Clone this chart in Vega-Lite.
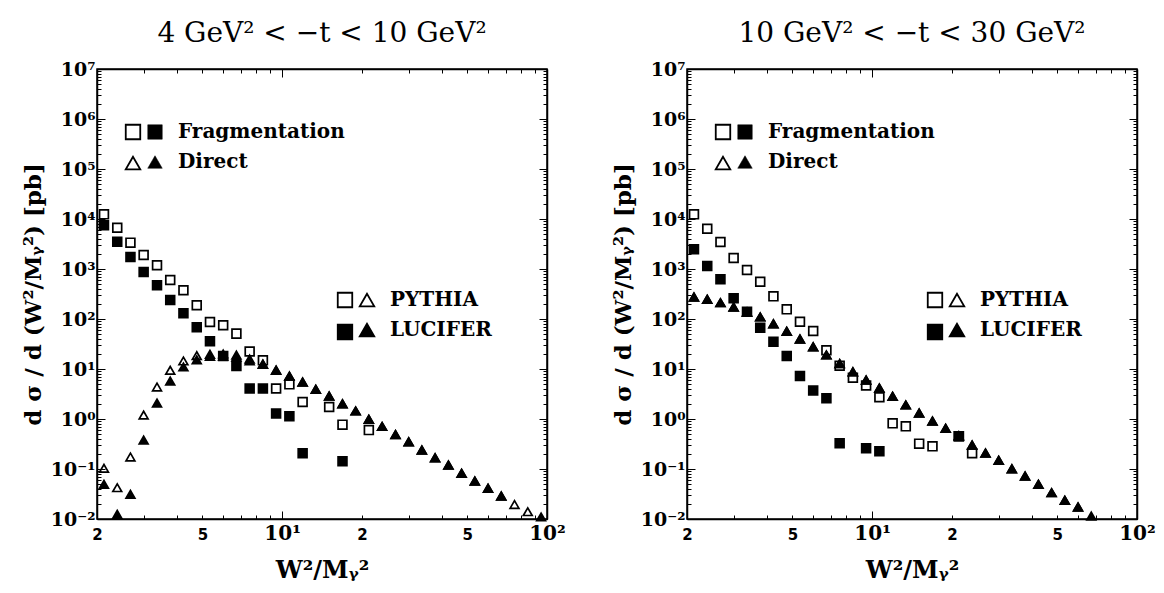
{
"$schema": "https://vega.github.io/schema/vega-lite/v6.json",
"background": "white",
"padding": {"left": 21, "top": 19, "right": 5, "bottom": 5},
"bounds": "flush",
"spacing": 140,
"datasets": {
"pts": [
{"p":"L","g":"PYTHIA","t":"Fragmentation","x":2.125,"y":12400},
{"p":"L","g":"PYTHIA","t":"Fragmentation","x":2.385,"y":6700},
{"p":"L","g":"PYTHIA","t":"Fragmentation","x":2.675,"y":3360},
{"p":"L","g":"PYTHIA","t":"Fragmentation","x":3.0,"y":1910},
{"p":"L","g":"PYTHIA","t":"Fragmentation","x":3.37,"y":1190},
{"p":"L","g":"PYTHIA","t":"Fragmentation","x":3.78,"y":603},
{"p":"L","g":"PYTHIA","t":"Fragmentation","x":4.24,"y":375},
{"p":"L","g":"PYTHIA","t":"Fragmentation","x":4.76,"y":188},
{"p":"L","g":"PYTHIA","t":"Fragmentation","x":5.34,"y":87},
{"p":"L","g":"PYTHIA","t":"Fragmentation","x":5.99,"y":75},
{"p":"L","g":"PYTHIA","t":"Fragmentation","x":6.72,"y":51},
{"p":"L","g":"PYTHIA","t":"Fragmentation","x":7.54,"y":22.4},
{"p":"L","g":"PYTHIA","t":"Fragmentation","x":8.46,"y":14.9},
{"p":"L","g":"PYTHIA","t":"Fragmentation","x":9.49,"y":4.07},
{"p":"L","g":"PYTHIA","t":"Fragmentation","x":10.65,"y":4.94},
{"p":"L","g":"PYTHIA","t":"Fragmentation","x":11.95,"y":2.19},
{"p":"L","g":"PYTHIA","t":"Fragmentation","x":15.05,"y":1.74},
{"p":"L","g":"PYTHIA","t":"Fragmentation","x":16.9,"y":0.77},
{"p":"L","g":"PYTHIA","t":"Fragmentation","x":21.25,"y":0.6},
{"p":"L","g":"LUCIFER","t":"Fragmentation","x":2.125,"y":7480},
{"p":"L","g":"LUCIFER","t":"Fragmentation","x":2.385,"y":3520},
{"p":"L","g":"LUCIFER","t":"Fragmentation","x":2.675,"y":1740},
{"p":"L","g":"LUCIFER","t":"Fragmentation","x":3.0,"y":871},
{"p":"L","g":"LUCIFER","t":"Fragmentation","x":3.37,"y":472},
{"p":"L","g":"LUCIFER","t":"Fragmentation","x":3.78,"y":240},
{"p":"L","g":"LUCIFER","t":"Fragmentation","x":4.24,"y":130},
{"p":"L","g":"LUCIFER","t":"Fragmentation","x":4.76,"y":68.2},
{"p":"L","g":"LUCIFER","t":"Fragmentation","x":5.34,"y":35.8},
{"p":"L","g":"LUCIFER","t":"Fragmentation","x":5.99,"y":18.2},
{"p":"L","g":"LUCIFER","t":"Fragmentation","x":6.72,"y":11.5},
{"p":"L","g":"LUCIFER","t":"Fragmentation","x":7.54,"y":4.07},
{"p":"L","g":"LUCIFER","t":"Fragmentation","x":8.46,"y":4.07},
{"p":"L","g":"LUCIFER","t":"Fragmentation","x":9.49,"y":1.29},
{"p":"L","g":"LUCIFER","t":"Fragmentation","x":10.65,"y":1.13},
{"p":"L","g":"LUCIFER","t":"Fragmentation","x":11.95,"y":0.206},
{"p":"L","g":"LUCIFER","t":"Fragmentation","x":16.9,"y":0.143},
{"p":"L","g":"PYTHIA","t":"Direct","x":2.125,"y":0.103},
{"p":"L","g":"PYTHIA","t":"Direct","x":2.385,"y":0.0423},
{"p":"L","g":"PYTHIA","t":"Direct","x":2.675,"y":0.174},
{"p":"L","g":"PYTHIA","t":"Direct","x":3.0,"y":1.2},
{"p":"L","g":"PYTHIA","t":"Direct","x":3.37,"y":4.37},
{"p":"L","g":"PYTHIA","t":"Direct","x":3.78,"y":9.42},
{"p":"L","g":"PYTHIA","t":"Direct","x":4.24,"y":14.5},
{"p":"L","g":"PYTHIA","t":"Direct","x":4.76,"y":18.5},
{"p":"L","g":"PYTHIA","t":"Direct","x":5.34,"y":19.7},
{"p":"L","g":"PYTHIA","t":"Direct","x":5.99,"y":20},
{"p":"L","g":"PYTHIA","t":"Direct","x":6.72,"y":19},
{"p":"L","g":"PYTHIA","t":"Direct","x":7.54,"y":15.8},
{"p":"L","g":"PYTHIA","t":"Direct","x":8.46,"y":12.6},
{"p":"L","g":"PYTHIA","t":"Direct","x":9.49,"y":9.5},
{"p":"L","g":"PYTHIA","t":"Direct","x":10.65,"y":7.2},
{"p":"L","g":"PYTHIA","t":"Direct","x":11.95,"y":5.5},
{"p":"L","g":"PYTHIA","t":"Direct","x":13.4,"y":3.93},
{"p":"L","g":"PYTHIA","t":"Direct","x":15.05,"y":2.88},
{"p":"L","g":"PYTHIA","t":"Direct","x":16.9,"y":2.02},
{"p":"L","g":"PYTHIA","t":"Direct","x":18.95,"y":1.45},
{"p":"L","g":"PYTHIA","t":"Direct","x":21.25,"y":0.99},
{"p":"L","g":"PYTHIA","t":"Direct","x":23.85,"y":0.71},
{"p":"L","g":"PYTHIA","t":"Direct","x":26.8,"y":0.49},
{"p":"L","g":"PYTHIA","t":"Direct","x":30.05,"y":0.35},
{"p":"L","g":"PYTHIA","t":"Direct","x":33.7,"y":0.24},
{"p":"L","g":"PYTHIA","t":"Direct","x":37.8,"y":0.168},
{"p":"L","g":"PYTHIA","t":"Direct","x":42.45,"y":0.12},
{"p":"L","g":"PYTHIA","t":"Direct","x":47.6,"y":0.082},
{"p":"L","g":"PYTHIA","t":"Direct","x":53.4,"y":0.0575},
{"p":"L","g":"PYTHIA","t":"Direct","x":59.9,"y":0.041},
{"p":"L","g":"PYTHIA","t":"Direct","x":67.2,"y":0.0288},
{"p":"L","g":"PYTHIA","t":"Direct","x":75.4,"y":0.0195},
{"p":"L","g":"PYTHIA","t":"Direct","x":84.6,"y":0.014},
{"p":"L","g":"LUCIFER","t":"Direct","x":2.125,"y":0.0494},
{"p":"L","g":"LUCIFER","t":"Direct","x":2.385,"y":0.0124},
{"p":"L","g":"LUCIFER","t":"Direct","x":2.675,"y":0.0312},
{"p":"L","g":"LUCIFER","t":"Direct","x":3.0,"y":0.38},
{"p":"L","g":"LUCIFER","t":"Direct","x":3.37,"y":2.09},
{"p":"L","g":"LUCIFER","t":"Direct","x":3.78,"y":5.75},
{"p":"L","g":"LUCIFER","t":"Direct","x":4.24,"y":11},
{"p":"L","g":"LUCIFER","t":"Direct","x":4.76,"y":15.3},
{"p":"L","g":"LUCIFER","t":"Direct","x":5.34,"y":17.9},
{"p":"L","g":"LUCIFER","t":"Direct","x":5.99,"y":18.2},
{"p":"L","g":"LUCIFER","t":"Direct","x":6.72,"y":17.4},
{"p":"L","g":"LUCIFER","t":"Direct","x":7.54,"y":14.5},
{"p":"L","g":"LUCIFER","t":"Direct","x":8.46,"y":12.4},
{"p":"L","g":"LUCIFER","t":"Direct","x":9.49,"y":9.4},
{"p":"L","g":"LUCIFER","t":"Direct","x":10.65,"y":7.2},
{"p":"L","g":"LUCIFER","t":"Direct","x":11.95,"y":5.5},
{"p":"L","g":"LUCIFER","t":"Direct","x":13.4,"y":3.93},
{"p":"L","g":"LUCIFER","t":"Direct","x":15.05,"y":2.88},
{"p":"L","g":"LUCIFER","t":"Direct","x":16.9,"y":2.02},
{"p":"L","g":"LUCIFER","t":"Direct","x":18.95,"y":1.45},
{"p":"L","g":"LUCIFER","t":"Direct","x":21.25,"y":0.99},
{"p":"L","g":"LUCIFER","t":"Direct","x":23.85,"y":0.71},
{"p":"L","g":"LUCIFER","t":"Direct","x":26.8,"y":0.49},
{"p":"L","g":"LUCIFER","t":"Direct","x":30.05,"y":0.35},
{"p":"L","g":"LUCIFER","t":"Direct","x":33.7,"y":0.24},
{"p":"L","g":"LUCIFER","t":"Direct","x":37.8,"y":0.168},
{"p":"L","g":"LUCIFER","t":"Direct","x":42.45,"y":0.12},
{"p":"L","g":"LUCIFER","t":"Direct","x":47.6,"y":0.082},
{"p":"L","g":"LUCIFER","t":"Direct","x":53.4,"y":0.0575},
{"p":"L","g":"LUCIFER","t":"Direct","x":59.9,"y":0.041},
{"p":"L","g":"LUCIFER","t":"Direct","x":67.2,"y":0.0288},
{"p":"L","g":"LUCIFER","t":"Direct","x":95.0,"y":0.011},
{"p":"R","g":"PYTHIA","t":"Fragmentation","x":2.125,"y":12400},
{"p":"R","g":"PYTHIA","t":"Fragmentation","x":2.385,"y":6400},
{"p":"R","g":"PYTHIA","t":"Fragmentation","x":2.675,"y":3470},
{"p":"R","g":"PYTHIA","t":"Fragmentation","x":3.0,"y":1660},
{"p":"R","g":"PYTHIA","t":"Fragmentation","x":3.37,"y":955},
{"p":"R","g":"PYTHIA","t":"Fragmentation","x":3.78,"y":557},
{"p":"R","g":"PYTHIA","t":"Fragmentation","x":4.24,"y":284},
{"p":"R","g":"PYTHIA","t":"Fragmentation","x":4.76,"y":156},
{"p":"R","g":"PYTHIA","t":"Fragmentation","x":5.34,"y":88.3},
{"p":"R","g":"PYTHIA","t":"Fragmentation","x":5.99,"y":57.5},
{"p":"R","g":"PYTHIA","t":"Fragmentation","x":6.72,"y":23.7},
{"p":"R","g":"PYTHIA","t":"Fragmentation","x":7.54,"y":11.6},
{"p":"R","g":"PYTHIA","t":"Fragmentation","x":8.46,"y":6.7},
{"p":"R","g":"PYTHIA","t":"Fragmentation","x":9.49,"y":4.68},
{"p":"R","g":"PYTHIA","t":"Fragmentation","x":10.65,"y":2.72},
{"p":"R","g":"PYTHIA","t":"Fragmentation","x":11.95,"y":0.82},
{"p":"R","g":"PYTHIA","t":"Fragmentation","x":13.4,"y":0.714},
{"p":"R","g":"PYTHIA","t":"Fragmentation","x":15.05,"y":0.321},
{"p":"R","g":"PYTHIA","t":"Fragmentation","x":16.9,"y":0.284},
{"p":"R","g":"PYTHIA","t":"Fragmentation","x":21.25,"y":0.451},
{"p":"R","g":"PYTHIA","t":"Fragmentation","x":23.85,"y":0.206},
{"p":"R","g":"LUCIFER","t":"Fragmentation","x":2.125,"y":2480},
{"p":"R","g":"LUCIFER","t":"Fragmentation","x":2.385,"y":1150},
{"p":"R","g":"LUCIFER","t":"Fragmentation","x":2.675,"y":622},
{"p":"R","g":"LUCIFER","t":"Fragmentation","x":3.0,"y":259},
{"p":"R","g":"LUCIFER","t":"Fragmentation","x":3.37,"y":140},
{"p":"R","g":"LUCIFER","t":"Fragmentation","x":3.78,"y":67},
{"p":"R","g":"LUCIFER","t":"Fragmentation","x":4.24,"y":35.2},
{"p":"R","g":"LUCIFER","t":"Fragmentation","x":4.76,"y":18.2},
{"p":"R","g":"LUCIFER","t":"Fragmentation","x":5.34,"y":7.24},
{"p":"R","g":"LUCIFER","t":"Fragmentation","x":5.99,"y":3.72},
{"p":"R","g":"LUCIFER","t":"Fragmentation","x":6.72,"y":2.59},
{"p":"R","g":"LUCIFER","t":"Fragmentation","x":7.54,"y":0.327},
{"p":"R","g":"LUCIFER","t":"Fragmentation","x":9.49,"y":0.259},
{"p":"R","g":"LUCIFER","t":"Fragmentation","x":10.65,"y":0.227},
{"p":"R","g":"LUCIFER","t":"Fragmentation","x":21.25,"y":0.451},
{"p":"R","g":"PYTHIA","t":"Direct","x":2.125,"y":275},
{"p":"R","g":"PYTHIA","t":"Direct","x":2.385,"y":248},
{"p":"R","g":"PYTHIA","t":"Direct","x":2.675,"y":212},
{"p":"R","g":"PYTHIA","t":"Direct","x":3.0,"y":174},
{"p":"R","g":"PYTHIA","t":"Direct","x":3.37,"y":138},
{"p":"R","g":"PYTHIA","t":"Direct","x":3.78,"y":110},
{"p":"R","g":"PYTHIA","t":"Direct","x":4.24,"y":80.5},
{"p":"R","g":"PYTHIA","t":"Direct","x":4.76,"y":56.8},
{"p":"R","g":"PYTHIA","t":"Direct","x":5.34,"y":39.8},
{"p":"R","g":"PYTHIA","t":"Direct","x":5.99,"y":27.9},
{"p":"R","g":"PYTHIA","t":"Direct","x":6.72,"y":19.1},
{"p":"R","g":"PYTHIA","t":"Direct","x":7.54,"y":12.8},
{"p":"R","g":"PYTHIA","t":"Direct","x":8.46,"y":8.83},
{"p":"R","g":"PYTHIA","t":"Direct","x":9.49,"y":6.03},
{"p":"R","g":"PYTHIA","t":"Direct","x":10.65,"y":4.17},
{"p":"R","g":"PYTHIA","t":"Direct","x":11.95,"y":2.84},
{"p":"R","g":"PYTHIA","t":"Direct","x":13.4,"y":1.91},
{"p":"R","g":"PYTHIA","t":"Direct","x":15.05,"y":1.32},
{"p":"R","g":"PYTHIA","t":"Direct","x":16.9,"y":0.912},
{"p":"R","g":"PYTHIA","t":"Direct","x":18.95,"y":0.652},
{"p":"R","g":"PYTHIA","t":"Direct","x":21.25,"y":0.463},
{"p":"R","g":"PYTHIA","t":"Direct","x":23.85,"y":0.302},
{"p":"R","g":"PYTHIA","t":"Direct","x":26.8,"y":0.209},
{"p":"R","g":"PYTHIA","t":"Direct","x":30.05,"y":0.149},
{"p":"R","g":"PYTHIA","t":"Direct","x":33.7,"y":0.101},
{"p":"R","g":"PYTHIA","t":"Direct","x":37.8,"y":0.0724},
{"p":"R","g":"PYTHIA","t":"Direct","x":42.45,"y":0.0494},
{"p":"R","g":"PYTHIA","t":"Direct","x":47.6,"y":0.0336},
{"p":"R","g":"PYTHIA","t":"Direct","x":53.4,"y":0.0237},
{"p":"R","g":"PYTHIA","t":"Direct","x":59.9,"y":0.0174},
{"p":"R","g":"LUCIFER","t":"Direct","x":2.125,"y":275},
{"p":"R","g":"LUCIFER","t":"Direct","x":2.385,"y":248},
{"p":"R","g":"LUCIFER","t":"Direct","x":2.675,"y":212},
{"p":"R","g":"LUCIFER","t":"Direct","x":3.0,"y":174},
{"p":"R","g":"LUCIFER","t":"Direct","x":3.37,"y":138},
{"p":"R","g":"LUCIFER","t":"Direct","x":3.78,"y":110},
{"p":"R","g":"LUCIFER","t":"Direct","x":4.24,"y":80.5},
{"p":"R","g":"LUCIFER","t":"Direct","x":4.76,"y":56.8},
{"p":"R","g":"LUCIFER","t":"Direct","x":5.34,"y":39.8},
{"p":"R","g":"LUCIFER","t":"Direct","x":5.99,"y":27.9},
{"p":"R","g":"LUCIFER","t":"Direct","x":6.72,"y":19.1},
{"p":"R","g":"LUCIFER","t":"Direct","x":7.54,"y":12.8},
{"p":"R","g":"LUCIFER","t":"Direct","x":8.46,"y":8.83},
{"p":"R","g":"LUCIFER","t":"Direct","x":9.49,"y":6.03},
{"p":"R","g":"LUCIFER","t":"Direct","x":10.65,"y":4.17},
{"p":"R","g":"LUCIFER","t":"Direct","x":11.95,"y":2.84},
{"p":"R","g":"LUCIFER","t":"Direct","x":13.4,"y":1.91},
{"p":"R","g":"LUCIFER","t":"Direct","x":15.05,"y":1.32},
{"p":"R","g":"LUCIFER","t":"Direct","x":16.9,"y":0.912},
{"p":"R","g":"LUCIFER","t":"Direct","x":18.95,"y":0.652},
{"p":"R","g":"LUCIFER","t":"Direct","x":21.25,"y":0.463},
{"p":"R","g":"LUCIFER","t":"Direct","x":23.85,"y":0.302},
{"p":"R","g":"LUCIFER","t":"Direct","x":26.8,"y":0.209},
{"p":"R","g":"LUCIFER","t":"Direct","x":30.05,"y":0.149},
{"p":"R","g":"LUCIFER","t":"Direct","x":33.7,"y":0.101},
{"p":"R","g":"LUCIFER","t":"Direct","x":37.8,"y":0.0724},
{"p":"R","g":"LUCIFER","t":"Direct","x":42.45,"y":0.0494},
{"p":"R","g":"LUCIFER","t":"Direct","x":47.6,"y":0.0336},
{"p":"R","g":"LUCIFER","t":"Direct","x":53.4,"y":0.0237},
{"p":"R","g":"LUCIFER","t":"Direct","x":59.9,"y":0.0174},
{"p":"R","g":"LUCIFER","t":"Direct","x":67.2,"y":0.0115}
]
},
"data": {"name": "pts"},
"hconcat": [
{
"title": {"text": "4 GeV² < −t < 10 GeV²"},
"width": 450, "height": 450,
"transform": [{"filter": "datum.p=='L'"}],
"layer": [
{
"mark": {"type": "point", "filled": true, "stroke": "black", "strokeWidth": 1.7, "size": 78, "opacity": 1},
"encoding": {
"x": {"field": "x", "type": "quantitative", "scale": {"type": "log", "domain": [2, 100], "nice": false},
 "axis": {"orient": "bottom", "values": [2,3,4,5,6,7,8,9,10,20,30,40,50,60,70,80,90,100],
  "labelExpr": "datum.value==2||datum.value==20?'2':datum.value==5||datum.value==50?'5':datum.value==10?'10¹':datum.value==100?'10²':''",
  "labelFont": {"condition": {"test": "datum.value==10||datum.value==100", "value": "DejaVu Serif"}, "value": "DejaVu Sans"},
  "labelFontSize": {"condition": {"test": "datum.value==10||datum.value==100", "value": 20}, "value": 15},
  "labelPadding": 12,
  "tickSize": {"condition": {"test": "datum.value==10||datum.value==100", "value": -8}, "value": -4},
  "title": "W²/Mᵧ²", "titleFontSize": 24, "titlePadding": 15}},
"y": {"field": "y", "type": "quantitative", "scale": {"type": "log", "domain": [0.01, 10000000], "nice": false},
 "axis": {"orient": "left", "values": [0.01,0.02,0.03,0.04,0.05,0.06,0.07,0.08,0.09,0.1,0.2,0.3,0.4,0.5,0.6,0.7,0.8,0.9,1,2,3,4,5,6,7,8,9,10,20,30,40,50,60,70,80,90,100,200,300,400,500,600,700,800,900,1000,2000,3000,4000,5000,6000,7000,8000,9000,10000,20000,30000,40000,50000,60000,70000,80000,90000,100000,200000,300000,400000,500000,600000,700000,800000,900000,1000000,2000000,3000000,4000000,5000000,6000000,7000000,8000000,9000000,10000000],
  "labelExpr": "abs(log(datum.value)/LN10-round(log(datum.value)/LN10))<1e-6 ? '10'+['⁻²','⁻¹','⁰','¹','²','³','⁴','⁵','⁶','⁷'][round(log(datum.value)/LN10)+2] : ''",
  "labelFontSize": 19,
  "tickSize": {"condition": {"test": "abs(log(datum.value)/LN10-round(log(datum.value)/LN10))<1e-6", "value": -8}, "value": -4},
  "title": "d σ / d (W²/Mᵧ²) [pb]", "titleFontSize": 23, "titlePadding": 5}},
"shape": {"field": "t", "type": "nominal", "scale": {"domain": ["Fragmentation", "Direct"], "range": ["square", "triangle-up"]},
 "legend": {"orient": "none", "legendX": 26, "legendY": 53, "title": null, "symbolSize": 210, "symbolFillColor": "transparent", "symbolStrokeColor": "black", "symbolStrokeWidth": 1.8, "labelExpr": "''", "rowPadding": 10, "padding": 0}},
"fill": {"field": "g", "type": "nominal", "scale": {"domain": ["PYTHIA", "LUCIFER"], "range": ["transparent", "black"]},
 "legend": {"orient": "none", "legendX": 238, "legendY": 221, "title": null, "symbolType": "square", "symbolSize": 210, "symbolStrokeColor": "black", "symbolStrokeWidth": 1.8, "labelExpr": "''", "rowPadding": 10, "padding": 0}}
}
},
{
"transform": [{"filter": "false"}],
"mark": {"type": "point", "filled": true, "stroke": "black", "strokeWidth": 1.7, "size": 78, "opacity": 1},
"encoding": {
"x": {"field": "x", "type": "quantitative", "axis": {"orient": "top", "values": [2,3,4,5,6,7,8,9,10,20,30,40,50,60,70,80,90,100], "labels": false, "title": null,
  "tickSize": {"condition": {"test": "datum.value==10||datum.value==100", "value": -8}, "value": -4}}},
"y": {"field": "y", "type": "quantitative", "axis": {"orient": "right", "values": [0.01,0.02,0.03,0.04,0.05,0.06,0.07,0.08,0.09,0.1,0.2,0.3,0.4,0.5,0.6,0.7,0.8,0.9,1,2,3,4,5,6,7,8,9,10,20,30,40,50,60,70,80,90,100,200,300,400,500,600,700,800,900,1000,2000,3000,4000,5000,6000,7000,8000,9000,10000,20000,30000,40000,50000,60000,70000,80000,90000,100000,200000,300000,400000,500000,600000,700000,800000,900000,1000000,2000000,3000000,4000000,5000000,6000000,7000000,8000000,9000000,10000000], "labels": false, "title": null,
  "tickSize": {"condition": {"test": "abs(log(datum.value)/LN10-round(log(datum.value)/LN10))<1e-6", "value": -8}, "value": -4}}},
"shape": {"field": "t", "type": "nominal", "scale": {"domain": ["Fragmentation", "Direct"], "range": ["square", "triangle-up"]},
 "legend": {"orient": "none", "legendX": 48, "legendY": 53, "title": null, "symbolSize": 210, "symbolFillColor": "black", "symbolStrokeColor": "black", "symbolStrokeWidth": 0.5, "labelOffset": 13, "rowPadding": 10, "padding": 0}},
"fill": {"field": "g", "type": "nominal", "scale": {"domain": ["PYTHIA", "LUCIFER"], "range": ["transparent", "black"]},
 "legend": {"orient": "none", "legendX": 260, "legendY": 221, "title": null, "symbolType": "triangle-up", "symbolSize": 210, "symbolStrokeColor": "black", "symbolStrokeWidth": 1.8, "labelOffset": 13, "rowPadding": 10, "padding": 0}}
}
}
],
"resolve": {"scale": {"shape": "independent", "fill": "independent"}, "axis": {"x": "independent", "y": "independent"}, "legend": {"shape": "independent", "fill": "independent"}}
},
{
"title": {"text": "10 GeV² < −t < 30 GeV²"},
"width": 450, "height": 450,
"transform": [{"filter": "datum.p=='R'"}],
"layer": [
{
"mark": {"type": "point", "filled": true, "stroke": "black", "strokeWidth": 1.7, "size": 78, "opacity": 1},
"encoding": {
"x": {"field": "x", "type": "quantitative", "scale": {"type": "log", "domain": [2, 100], "nice": false},
 "axis": {"orient": "bottom", "values": [2,3,4,5,6,7,8,9,10,20,30,40,50,60,70,80,90,100],
  "labelExpr": "datum.value==2||datum.value==20?'2':datum.value==5||datum.value==50?'5':datum.value==10?'10¹':datum.value==100?'10²':''",
  "labelFont": {"condition": {"test": "datum.value==10||datum.value==100", "value": "DejaVu Serif"}, "value": "DejaVu Sans"},
  "labelFontSize": {"condition": {"test": "datum.value==10||datum.value==100", "value": 20}, "value": 15},
  "labelPadding": 12,
  "tickSize": {"condition": {"test": "datum.value==10||datum.value==100", "value": -8}, "value": -4},
  "title": "W²/Mᵧ²", "titleFontSize": 24, "titlePadding": 15}},
"y": {"field": "y", "type": "quantitative", "scale": {"type": "log", "domain": [0.01, 10000000], "nice": false},
 "axis": {"orient": "left", "values": [0.01,0.02,0.03,0.04,0.05,0.06,0.07,0.08,0.09,0.1,0.2,0.3,0.4,0.5,0.6,0.7,0.8,0.9,1,2,3,4,5,6,7,8,9,10,20,30,40,50,60,70,80,90,100,200,300,400,500,600,700,800,900,1000,2000,3000,4000,5000,6000,7000,8000,9000,10000,20000,30000,40000,50000,60000,70000,80000,90000,100000,200000,300000,400000,500000,600000,700000,800000,900000,1000000,2000000,3000000,4000000,5000000,6000000,7000000,8000000,9000000,10000000],
  "labelExpr": "abs(log(datum.value)/LN10-round(log(datum.value)/LN10))<1e-6 ? '10'+['⁻²','⁻¹','⁰','¹','²','³','⁴','⁵','⁶','⁷'][round(log(datum.value)/LN10)+2] : ''",
  "labelFontSize": 19,
  "tickSize": {"condition": {"test": "abs(log(datum.value)/LN10-round(log(datum.value)/LN10))<1e-6", "value": -8}, "value": -4},
  "title": "d σ / d (W²/Mᵧ²) [pb]", "titleFontSize": 23, "titlePadding": 5}},
"shape": {"field": "t", "type": "nominal", "scale": {"domain": ["Fragmentation", "Direct"], "range": ["square", "triangle-up"]},
 "legend": {"orient": "none", "legendX": 26, "legendY": 53, "title": null, "symbolSize": 210, "symbolFillColor": "transparent", "symbolStrokeColor": "black", "symbolStrokeWidth": 1.8, "labelExpr": "''", "rowPadding": 10, "padding": 0}},
"fill": {"field": "g", "type": "nominal", "scale": {"domain": ["PYTHIA", "LUCIFER"], "range": ["transparent", "black"]},
 "legend": {"orient": "none", "legendX": 238, "legendY": 221, "title": null, "symbolType": "square", "symbolSize": 210, "symbolStrokeColor": "black", "symbolStrokeWidth": 1.8, "labelExpr": "''", "rowPadding": 10, "padding": 0}}
}
},
{
"transform": [{"filter": "false"}],
"mark": {"type": "point", "filled": true, "stroke": "black", "strokeWidth": 1.7, "size": 78, "opacity": 1},
"encoding": {
"x": {"field": "x", "type": "quantitative", "axis": {"orient": "top", "values": [2,3,4,5,6,7,8,9,10,20,30,40,50,60,70,80,90,100], "labels": false, "title": null,
  "tickSize": {"condition": {"test": "datum.value==10||datum.value==100", "value": -8}, "value": -4}}},
"y": {"field": "y", "type": "quantitative", "axis": {"orient": "right", "values": [0.01,0.02,0.03,0.04,0.05,0.06,0.07,0.08,0.09,0.1,0.2,0.3,0.4,0.5,0.6,0.7,0.8,0.9,1,2,3,4,5,6,7,8,9,10,20,30,40,50,60,70,80,90,100,200,300,400,500,600,700,800,900,1000,2000,3000,4000,5000,6000,7000,8000,9000,10000,20000,30000,40000,50000,60000,70000,80000,90000,100000,200000,300000,400000,500000,600000,700000,800000,900000,1000000,2000000,3000000,4000000,5000000,6000000,7000000,8000000,9000000,10000000], "labels": false, "title": null,
  "tickSize": {"condition": {"test": "abs(log(datum.value)/LN10-round(log(datum.value)/LN10))<1e-6", "value": -8}, "value": -4}}},
"shape": {"field": "t", "type": "nominal", "scale": {"domain": ["Fragmentation", "Direct"], "range": ["square", "triangle-up"]},
 "legend": {"orient": "none", "legendX": 48, "legendY": 53, "title": null, "symbolSize": 210, "symbolFillColor": "black", "symbolStrokeColor": "black", "symbolStrokeWidth": 0.5, "labelOffset": 13, "rowPadding": 10, "padding": 0}},
"fill": {"field": "g", "type": "nominal", "scale": {"domain": ["PYTHIA", "LUCIFER"], "range": ["transparent", "black"]},
 "legend": {"orient": "none", "legendX": 260, "legendY": 221, "title": null, "symbolType": "triangle-up", "symbolSize": 210, "symbolStrokeColor": "black", "symbolStrokeWidth": 1.8, "labelOffset": 13, "rowPadding": 10, "padding": 0}}
}
}
],
"resolve": {"scale": {"shape": "independent", "fill": "independent"}, "axis": {"x": "independent", "y": "independent"}, "legend": {"shape": "independent", "fill": "independent"}}
}
],
"resolve": {"scale": {"shape": "independent", "fill": "independent"}, "legend": {"shape": "independent", "fill": "independent"}},
"config": {
"font": "DejaVu Serif",
"view": {"stroke": "black", "strokeWidth": 1.5},
"title": {"font": "DejaVu Serif", "fontSize": 28, "fontWeight": "normal", "color": "black", "offset": 12, "anchor": "middle"},
"axis": {"grid": false, "domainColor": "black", "domainWidth": 1.5, "tickColor": "black", "tickWidth": 1, "labelColor": "black", "labelFont": "DejaVu Serif", "labelFontWeight": "bold", "labelFontSize": 20, "labelPadding": 10, "labelOverlap": false, "labelFlush": false, "labelBound": false, "titleFont": "DejaVu Serif", "titleFontWeight": "bold", "titleFontSize": 21, "titleColor": "black", "titlePadding": 6},
"legend": {"labelFont": "DejaVu Serif", "labelFontWeight": "bold", "labelFontSize": 20, "labelColor": "black", "labelLimit": 400}
}
}
